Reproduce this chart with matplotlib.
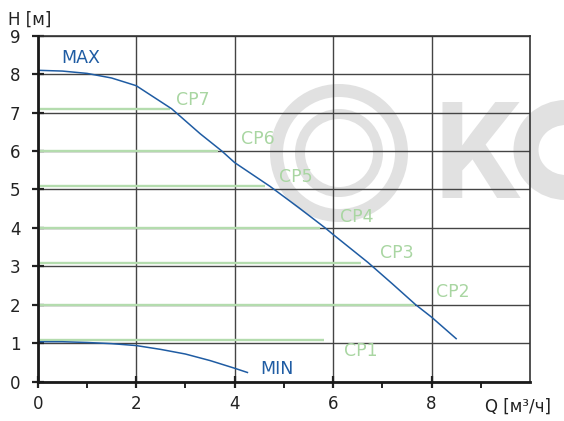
import matplotlib
matplotlib.use("Agg")
import matplotlib.pyplot as plt
from matplotlib.patches import Ellipse

# ---- data ----
max_q = [0, 0.5, 1.0, 1.5, 2.0, 2.3, 2.72, 3.3, 3.74, 4.0, 4.72, 5.3, 5.84, 6.0, 6.71, 7.2, 7.68, 8.0, 8.5]
max_h = [8.10, 8.08, 8.02, 7.90, 7.70, 7.45, 7.10, 6.45, 6.00, 5.70, 5.08, 4.53, 4.00, 3.83, 3.10, 2.55, 2.00, 1.68, 1.12]
min_q = [0, 0.5, 1.0, 1.5, 2.0, 2.5, 3.0, 3.5, 4.0, 4.26]
min_h = [1.04, 1.04, 1.02, 0.99, 0.94, 0.84, 0.72, 0.55, 0.35, 0.24]
cp_names = ["CP1", "CP2", "CP3", "CP4", "CP5", "CP6", "CP7"]
cp_levels = [1.09, 2.0, 3.1, 4.0, 5.08, 6.0, 7.1]
cp_ends = [5.81, 7.66, 6.56, 5.74, 4.62, 3.66, 2.68]
cp_label_x = [6.22, 8.10, 6.95, 6.14, 4.91, 4.12, 2.81]
cp_label_y = [0.81, 2.33, 3.34, 4.28, 5.32, 6.31, 7.33]
x_ticks = [0, 2, 4, 6, 8]
y_ticks = [0, 1, 2, 3, 4, 5, 6, 7, 8, 9]

BLUE = "#1f5ca3"
GREEN = "#b4dcae"
GREEN_T = "#a9d6a2"
WM = "#e1e1e1"

W, H = 564, 421
fig = plt.figure(figsize=(W / 100, H / 100), dpi=100)
fig.patch.set_facecolor("white")

# watermark (background, pixel coordinates)
cx, cy = 339, H - 153
fig.patches.append(Ellipse((cx, cy), 2 * 62.5, 2 * 62.5, fill=False, lw=13 * 0.72, ec=WM,
                           transform=None, zorder=-5))
fig.patches.append(Ellipse((cx, cy), 2 * 39, 2 * 39, fill=False, lw=10 * 0.72, ec=WM,
                           transform=None, zorder=-5))
fig.text(433 / W, (H - 198) / H, "K", fontsize=97, fontweight="bold", family="Roboto",
         color=WM, ha="left", va="baseline", zorder=-5)
fig.patches.append(Ellipse((566, H - 150), 2 * 40, 2 * 37.5, fill=False, lw=25 * 0.72, ec=WM,
                           transform=None, zorder=-5))

ax = fig.add_axes([37.7 / W, (H - 381.7) / H, (530 - 37.7) / W, (381.7 - 35.7) / H])
ax.set_facecolor("none")
ax.set_xlim(0, 10)
ax.set_ylim(0, 9)

ax.set_xticks(x_ticks)
ax.set_xticks([1, 3, 5, 7, 9], minor=True)
ax.set_yticks(y_ticks)
ax.tick_params(axis="both", which="major", direction="inout", length=9, width=1.6,
               labelsize=12, colors="#222222")
ax.tick_params(axis="x", which="major", pad=5)
ax.tick_params(axis="y", which="major", pad=8)
ax.tick_params(axis="x", which="minor", direction="out", length=4, width=1.4, color="#222222")

for s in ["left", "bottom"]:
    ax.spines[s].set_linewidth(2.0)
    ax.spines[s].set_color("#1a1a1a")
    ax.spines[s].set_zorder(5)
for s in ["top", "right"]:
    ax.spines[s].set_linewidth(1.2)
    ax.spines[s].set_color("#333333")

ax.grid(True, which="major", color="#444444", lw=1.0)
ax.set_axisbelow(True)

for lvl, end in zip(cp_levels, cp_ends):
    ax.plot([0, end], [lvl, lvl], color=GREEN, lw=1.7, solid_capstyle="butt", zorder=2)
for name, lx, ly in zip(cp_names, cp_label_x, cp_label_y):
    ax.text(lx, ly, name, color=GREEN_T, fontsize=12.5, ha="left", va="center", zorder=3)

ax.plot(max_q, max_h, color=BLUE, lw=1.1, zorder=4)
ax.plot(min_q, min_h, color=BLUE, lw=1.1, zorder=4)
ax.text(0.47, 8.41, "MAX", color=BLUE, fontsize=12.5, ha="left", va="center")
ax.text(4.53, 0.33, "MIN", color=BLUE, fontsize=12.5, ha="left", va="center")

fig.text(8 / W, (H - 25) / H, "H [м]", fontsize=12, color="#222222", ha="left", va="baseline")
fig.text(485 / W, (H - 411.5) / H, "Q [м³/ч]", fontsize=12, color="#222222", ha="left", va="baseline")

fig.savefig("out.png", dpi=100)
